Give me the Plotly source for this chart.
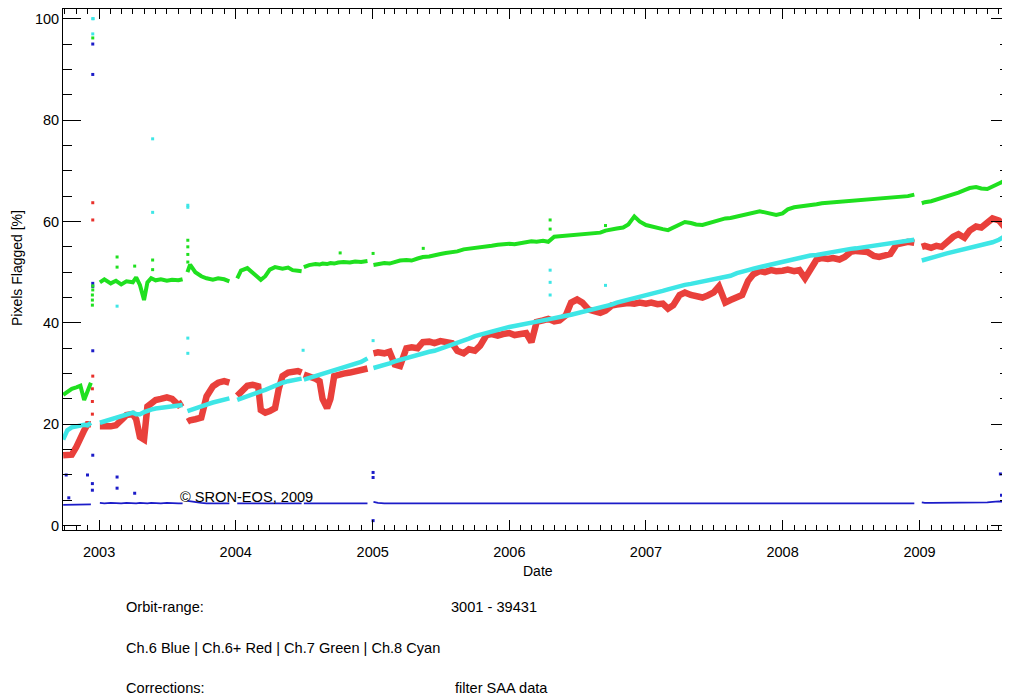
import plotly.graph_objects as go

# ---------------- data ----------------
dates = [
    # 2002
    "2002-09-27", "2002-10-08", "2002-10-20", "2002-11-01", "2002-11-12", "2002-11-22", "2002-12-01", "2002-12-10", "2002-12-20",
    # 2003 Jan-Aug
    "2003-01-03", "2003-01-15", "2003-02-01", "2003-02-15", "2003-03-01", "2003-03-15", "2003-04-01", "2003-04-10", "2003-04-20",
    "2003-05-01", "2003-05-10", "2003-05-20", "2003-06-01", "2003-06-15", "2003-07-01", "2003-07-15", "2003-08-01", "2003-08-12", "2003-08-18",
    # 2003 Aug-Dec
    "2003-08-25", "2003-09-01", "2003-09-15", "2003-10-01", "2003-10-15", "2003-11-01", "2003-11-15", "2003-12-01", "2003-12-15", "2003-12-25",
    # 2004 Jan-Jun
    "2004-01-05", "2004-01-15", "2004-02-01", "2004-02-15", "2004-03-01", "2004-03-08", "2004-03-20", "2004-04-01", "2004-04-15", "2004-04-25",
    "2004-05-05", "2004-05-20", "2004-06-01", "2004-06-15", "2004-06-25", "2004-06-28",
    # 2004 Jul-Dec
    "2004-07-01", "2004-07-15", "2004-08-01", "2004-08-12", "2004-08-20", "2004-09-01", "2004-09-10", "2004-09-20", "2004-10-01", "2004-10-15",
    "2004-11-01", "2004-11-15", "2004-12-01", "2004-12-18", "2004-12-26",
    # 2005
    "2005-01-03", "2005-01-15", "2005-02-01", "2005-02-15", "2005-03-01", "2005-03-15", "2005-04-01", "2005-04-15", "2005-05-01", "2005-05-15", "2005-06-01", "2005-06-15",
    "2005-07-01", "2005-07-15", "2005-08-01", "2005-08-15", "2005-09-01", "2005-09-15", "2005-10-01", "2005-10-15", "2005-11-01", "2005-11-15", "2005-12-01", "2005-12-15",
    # 2006
    "2006-01-01", "2006-01-15", "2006-02-01", "2006-02-15", "2006-03-01", "2006-03-15", "2006-04-01", "2006-04-15", "2006-05-01", "2006-05-15", "2006-06-01", "2006-06-15",
    "2006-07-01", "2006-07-15", "2006-08-01", "2006-08-15", "2006-09-01", "2006-09-15", "2006-10-01", "2006-10-15", "2006-11-01", "2006-11-15", "2006-12-01", "2006-12-15",
    # 2007
    "2007-01-01", "2007-01-15", "2007-02-01", "2007-02-15", "2007-03-01", "2007-03-15", "2007-04-01", "2007-04-15", "2007-05-01", "2007-05-15", "2007-06-01", "2007-06-15",
    "2007-07-01", "2007-07-15", "2007-08-01", "2007-08-15", "2007-09-01", "2007-09-15", "2007-10-01", "2007-10-15", "2007-11-01", "2007-11-15", "2007-12-01", "2007-12-15",
    # 2008
    "2008-01-01", "2008-01-15", "2008-02-01", "2008-02-15", "2008-03-01", "2008-03-15", "2008-04-01", "2008-04-15", "2008-05-01", "2008-05-15", "2008-06-01", "2008-06-15",
    "2008-07-01", "2008-07-15", "2008-08-01", "2008-08-15", "2008-09-01", "2008-09-15", "2008-10-01", "2008-10-15", "2008-11-01", "2008-11-15", "2008-12-01", "2008-12-18",
    "2008-12-28",
    # 2009
    "2009-01-07", "2009-01-15", "2009-02-01", "2009-02-15", "2009-03-01", "2009-03-15", "2009-04-01", "2009-04-15", "2009-05-01", "2009-05-15", "2009-06-01", "2009-06-15",
    "2009-07-01", "2009-07-15", "2009-08-01", "2009-08-15", "2009-08-28",
]

ch7_green = [
    25.8, 26.4, 27.0, 27.3, 27.6, 24.8, 26.4, 28.2, None,
    48.0, 48.6, 47.8, 48.3, 47.6, 48.2, 48.0, 49.0, 47.5,
    44.5, 48.0, 48.8, 48.4, 48.6, 48.3, 48.5, 48.4, 48.6, None,
    50.0, 51.5, 50.0, 49.2, 48.8, 48.5, 48.8, 48.6, 48.2, None,
    48.8, 50.3, 50.8, 50.0, 49.0, 48.5, 49.2, 50.5, 51.0, 50.8,
    50.7, 50.9, 50.4, 50.3, 50.2, None,
    51.0, 51.4, 51.6, 51.5, 51.7, 51.6, 51.8, 51.7, 51.9, 52.0,
    51.9, 52.1, 52.0, 52.2, None,
    51.4, 51.6, 51.8, 51.7, 52.1, 52.3, 52.4, 52.3, 52.7, 53.0, 53.1, 53.4,
    53.6, 53.8, 54.0, 54.1, 54.5, 54.6, 54.8, 54.9, 55.0, 55.2, 55.4, 55.5,
    55.6, 55.5, 55.8, 55.9, 56.1, 56.0, 56.2, 56.0, 57.0, 57.1, 57.2, 57.2,
    57.3, 57.4, 57.5, 57.6, 57.8, 58.2, 58.5, 58.6, 58.8, 59.4, 61.0, 60.0,
    59.3, 59.0, 58.8, 58.5, 58.3, 58.8, 59.5, 59.9, 59.7, 59.4, 59.3, 59.6,
    60.0, 60.3, 60.6, 60.7, 61.0, 61.2, 61.5, 61.7, 62.0, 61.8, 61.5, 61.3,
    61.6, 62.4, 62.8, 62.9, 63.1, 63.2, 63.4, 63.6, 63.7, 63.8, 63.9, 64.0,
    64.1, 64.2, 64.2, 64.3, 64.4, 64.4, 64.5, 64.6, 64.7, 64.8, 65.0, 65.3,
    None,
    63.6, 63.8, 64.0, 64.3, 64.6, 65.0, 65.3, 65.7, 66.2, 66.6, 66.8, 66.5,
    66.4, 67.0, 67.5, 68.0, 68.2,
]

ch8_cyan = [
    17.0, 18.8, 19.4, 19.6, 19.8, 19.9, 19.8, 20.3, None,
    20.3, 20.6, 21.0, 21.3, 21.5, 21.9, 22.3, 22.0, 22.0,
    22.4, 22.7, 22.9, 23.1, 23.2, 23.4, 23.5, 23.7, 23.8, None,
    22.6, 22.8, 23.2, 23.6, 23.9, 24.3, 24.6, 24.9, 25.1, None,
    24.8, 25.1, 25.5, 25.9, 26.3, 26.5, 26.8, 27.2, 27.6, 27.9,
    28.2, 28.5, 28.7, 28.9, 29.0, None,
    28.8, 29.1, 29.5, 29.8, 29.9, 30.2, 30.4, 30.6, 30.9, 31.2,
    31.6, 31.9, 32.3, 33.0, None,
    31.1, 31.3, 31.7, 32.0, 32.4, 32.7, 33.1, 33.4, 33.8, 34.0, 34.3, 34.5,
    34.9, 35.2, 35.6, 36.0, 36.4, 36.9, 37.4, 37.7, 38.1, 38.4, 38.7, 39.0,
    39.2, 39.4, 39.6, 39.8, 40.0, 40.2, 40.5, 40.7, 41.0, 41.2, 41.4, 41.6,
    41.9, 42.1, 42.4, 42.7, 42.9, 43.2, 43.6, 44.0, 44.3, 44.5, 44.8, 45.1,
    45.5, 45.7, 46.0, 46.3, 46.6, 46.9, 47.3, 47.5, 47.7, 47.9, 48.1, 48.3,
    48.5, 48.8, 49.1, 49.3, 49.8, 50.0, 50.4, 50.7, 51.0, 51.3, 51.5, 51.7,
    52.0, 52.2, 52.6, 52.8, 53.1, 53.3, 53.4, 53.6, 53.9, 54.1, 54.3, 54.5,
    54.6, 54.7, 54.9, 55.1, 55.3, 55.4, 55.5, 55.7, 55.9, 56.0, 56.2, 56.4,
    None,
    52.3, 52.5, 52.9, 53.1, 53.4, 53.7, 54.0, 54.3, 54.6, 54.9, 55.2, 55.4,
    55.6, 55.9, 56.4, 57.0, 56.9,
]

ch6p_red = [
    13.9, 14.0, 14.0, 15.5, 17.5, 18.8, 20.0, 20.0, None,
    19.6, 19.5, 19.6, 19.8, 21.0, 21.8, 22.0, 21.0, 17.5,
    17.0, 23.5, 24.0, 24.8, 25.0, 25.3, 25.0, 23.8, 24.3, None,
    20.5, 20.8, 21.0, 21.3, 25.5, 27.5, 28.2, 28.5, 28.2, None,
    25.6, 26.5, 27.6, 27.8, 27.5, 22.8, 22.3, 22.6, 23.2, 27.0,
    29.5, 30.2, 30.3, 30.5, 30.2, None,
    29.8, 29.5, 29.0, 28.5, 25.0, 23.2, 25.0, 29.5, 29.8, 30.0,
    30.2, 30.4, 30.6, 31.0, None,
    34.0, 34.2, 34.0, 34.3, 31.8, 31.5, 35.0, 35.2, 35.0, 36.2, 36.3, 36.0,
    36.4, 36.2, 36.0, 34.5, 34.0, 34.8, 34.5, 35.5, 37.6, 37.8, 37.5, 37.8,
    38.0, 37.6, 37.8, 38.0, 36.2, 40.2, 40.5, 40.8, 40.3, 40.5, 41.5, 44.0,
    44.6, 44.0, 42.6, 42.3, 42.0, 42.4, 43.4, 43.6, 43.8, 43.9, 43.8, 44.0,
    43.8, 44.0, 43.7, 43.8, 42.8, 43.5, 45.5, 46.0, 45.5, 45.2, 45.0, 45.4,
    46.0, 47.2, 44.0, 44.5, 45.0, 45.5, 48.3, 49.6, 50.2, 50.0, 50.4, 50.2,
    50.3, 50.5, 50.2, 50.4, 48.8, 50.5, 52.5, 52.8, 52.6, 52.8, 52.5, 53.0,
    54.0, 54.2, 54.0, 54.0, 53.2, 53.0, 53.3, 53.6, 55.5, 55.8, 56.0, 55.8,
    None,
    55.0, 55.2, 54.8, 55.2, 55.0, 56.0, 57.0, 57.5, 56.8, 58.2, 59.0, 58.8,
    60.0, 60.6, 60.2, 59.0, 58.5,
]

ch6_blue = [
    4.1, 4.1, 4.1, 4.2, 4.1, 4.2, 4.1, 4.2, None,
    4.5, 4.4, 4.5, 4.4, 4.4, 4.5, 4.4, 4.4, 4.5,
    4.4, 4.4, 4.5, 4.4, 4.4, 4.5, 4.4, 4.4, 4.4, None,
    4.9, 4.8, 4.6, 4.5, 4.4, 4.4, 4.4, 4.4, 4.4, None,
    4.4, 4.4, 4.4, 4.4, 4.4, 4.4, 4.4, 4.4, 4.4, 4.4,
    4.4, 4.4, 4.4, 4.4, 4.4, None,
    4.4, 4.4, 4.4, 4.4, 4.4, 4.4, 4.4, 4.4, 4.4, 4.4,
    4.4, 4.4, 4.4, 4.4, None,
    4.7, 4.5, 4.4, 4.4, 4.4, 4.4, 4.4, 4.4, 4.4, 4.4, 4.4, 4.4,
    4.4, 4.4, 4.4, 4.4, 4.4, 4.4, 4.4, 4.4, 4.4, 4.4, 4.4, 4.4,
    4.4, 4.4, 4.4, 4.4, 4.4, 4.4, 4.4, 4.4, 4.4, 4.4, 4.4, 4.4,
    4.4, 4.4, 4.4, 4.4, 4.4, 4.4, 4.4, 4.4, 4.4, 4.4, 4.4, 4.4,
    4.4, 4.4, 4.4, 4.4, 4.4, 4.4, 4.4, 4.4, 4.4, 4.4, 4.4, 4.4,
    4.4, 4.4, 4.4, 4.4, 4.4, 4.4, 4.4, 4.4, 4.4, 4.4, 4.4, 4.4,
    4.4, 4.4, 4.4, 4.4, 4.4, 4.4, 4.4, 4.4, 4.4, 4.4, 4.4, 4.4,
    4.4, 4.4, 4.4, 4.4, 4.4, 4.4, 4.4, 4.4, 4.4, 4.4, 4.4, 4.4,
    None,
    4.6, 4.5, 4.5, 4.5, 4.5, 4.5, 4.5, 4.5, 4.5, 4.5, 4.5, 4.6,
    4.6, 4.7, 4.8, 4.7, 4.6,
]

# isolated points (spikes / transition outliers)
green_out_dates = ["2002-12-14", "2002-12-14", "2002-12-14", "2002-12-15", "2002-12-15", "2002-12-15",
                   "2003-02-18", "2003-02-18", "2003-04-06", "2003-05-24", "2003-05-24",
                   "2003-08-26", "2003-08-26", "2003-08-26", "2003-08-26",
                   "2004-10-06", "2005-01-02", "2005-05-16", "2006-04-20", "2006-04-20", "2006-09-15"]
green_out_vals = [43.5, 44.5, 45.5, 46.5, 47.3, 96.2,
                  51.0, 53.0, 51.2, 50.5, 52.4,
                  52.0, 53.5, 55.0, 56.3,
                  53.8, 53.7, 54.7, 58.5, 60.3, 59.2]

cyan_out_dates = ["2002-12-15", "2002-12-16", "2002-12-15", "2003-02-18", "2003-05-24", "2003-05-24",
                  "2003-08-26", "2003-08-26", "2003-08-26", "2003-08-26", "2004-06-29",
                  "2005-01-02", "2006-04-20", "2006-04-20", "2006-04-20", "2006-09-15"]
cyan_out_vals = [100.0, 100.0, 97.0, 43.3, 76.3, 61.8,
                 63.2, 62.8, 37.0, 34.0, 34.6,
                 36.5, 50.4, 48.0, 45.5, 47.4]

red_out_dates = ["2002-12-14", "2002-12-14", "2002-12-14", "2002-12-15", "2002-12-15", "2002-12-15"]
red_out_vals = [22.0, 24.5, 27.0, 29.5, 60.3, 63.7]

blue_out_dates = ["2002-10-05", "2002-10-12", "2002-12-01", "2002-12-14", "2002-12-14", "2002-12-15",
                  "2002-12-15", "2002-12-15", "2002-12-15", "2002-12-15", "2002-12-15",
                  "2003-02-18", "2003-02-18", "2003-04-06", "2005-01-02", "2005-01-02", "2005-01-02",
                  "2009-08-05", "2009-08-08"]
blue_out_vals = [10.0, 5.5, 10.0, 7.0, 8.3, 13.9,
                 34.5, 47.2, 47.8, 89.0, 95.0,
                 9.6, 7.4, 6.4, 10.5, 9.5, 1.0,
                 10.2, 6.0]

x_range = ["2002-09-26 12:00", "2009-08-28"]
y_range = [-0.85, 101.91]

GREEN = "#1fe01f"
CYAN = "#3ee6e6"
RED = "#e8302b"
BLUE = "#1c1cc8"

# ---------------- figure ----------------
fig = go.Figure()

fig.add_trace(go.Scatter(x=dates, y=ch6_blue, mode="lines", line=dict(color=BLUE, width=1.6),
                         connectgaps=False, hoverinfo="skip"))
fig.add_trace(go.Scatter(x=dates, y=ch6p_red, mode="lines", line=dict(color=RED, width=6.5),
                         opacity=0.92, connectgaps=False, hoverinfo="skip"))
fig.add_trace(go.Scatter(x=dates, y=ch7_green, mode="lines", line=dict(color=GREEN, width=4),
                         connectgaps=False, hoverinfo="skip"))
fig.add_trace(go.Scatter(x=dates, y=ch8_cyan, mode="lines", line=dict(color=CYAN, width=4.5),
                         connectgaps=False, hoverinfo="skip"))

for xs, ys, col in [(blue_out_dates, blue_out_vals, BLUE), (red_out_dates, red_out_vals, RED),
                    (green_out_dates, green_out_vals, GREEN), (cyan_out_dates, cyan_out_vals, CYAN)]:
    fig.add_trace(go.Scatter(x=xs, y=ys, mode="markers",
                             marker=dict(color=col, size=3, symbol="square", line=dict(width=0)),
                             hoverinfo="skip"))

FONT = "Liberation Sans, Arial, Helvetica, sans-serif"

# The page body adds an 8 px offset, so the figure is 8 px smaller on each axis.
fig.update_layout(
    width=1002, height=688,
    margin=dict(l=55, r=1, t=1, b=166),
    paper_bgcolor="white", plot_bgcolor="white",
    showlegend=False,
    font=dict(family=FONT, size=14, color="black"),
    xaxis=dict(
        type="date", range=x_range, tick0="2003-01-01", dtick="M12", tickformat="%Y",
        ticks="inside", ticklen=10, tickwidth=1, tickcolor="black",
        showline=True, linecolor="black", linewidth=1, mirror="ticks",
        showgrid=False, zeroline=False, ticklabelstandoff=9,
        tickfont=dict(family=FONT, size=14.5, color="black"),
        minor=dict(dtick="M1", tick0="2003-01-01", ticks="inside", ticklen=5,
                   tickwidth=1, tickcolor="black", showgrid=False),
    ),
    yaxis=dict(
        range=y_range, tick0=0, dtick=20,
        ticks="inside", ticklen=18, tickwidth=1, tickcolor="black",
        showline=True, linecolor="black", linewidth=1, mirror="ticks",
        showgrid=False, zeroline=False,
        tickfont=dict(family=FONT, size=14.5, color="black"),
        minor=dict(dtick=5, tick0=0, ticks="inside", ticklen=9, tickwidth=1,
                   tickcolor="black", showgrid=False),
    ),
)

# plot area geometry (figure pixels) used for placing the text annotations
PX0, PW, PY0, PH = 55.0, 946.0, 522.0, 521.0
OFF = 8.0  # page offset


def pxx(x):
    return (x - OFF - PX0) / PW


def pxy(y):
    return (PY0 - (y - OFF)) / PH


def note(text, x, y, size=14.6, anchor="left", angle=0):
    fig.add_annotation(text=text, x=pxx(x), y=pxy(y), xref="paper", yref="paper",
                       xanchor=anchor, yanchor="middle", showarrow=False, textangle=angle,
                       font=dict(family=FONT, size=size, color="black"))


note("© SRON-EOS, 2009", 178, 497)
note("Pixels Flagged [%]", 17, 268, size=14, anchor="center", angle=-90)
note("Date", 538, 571, size=14, anchor="center")
note("Orbit-range:", 124, 607)
note("3001 - 39431", 449, 607)
note("Ch.6 Blue | Ch.6+ Red | Ch.7 Green | Ch.8 Cyan", 124, 648)
note("Corrections:", 124, 688)
note("filter SAA data", 453, 688)

fig.write_html("out.html")
